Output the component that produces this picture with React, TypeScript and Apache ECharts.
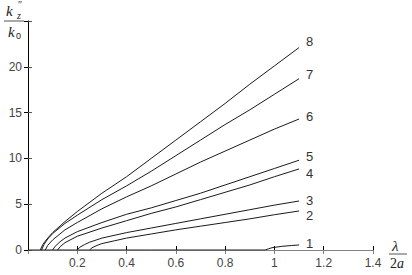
import React, { useEffect, useRef } from "react";
import * as echarts from "echarts";

// x = λ/2a, y = k''z / k0
const xTickValues = [0, 0.2, 0.4, 0.6, 0.8, 1, 1.2, 1.4];
const yTickValues = [0, 5, 10, 15, 20, 25];
const curveNames = ["1", "2", "3", "4", "5", "6", "7", "8"];

const curve1 = [[0, 0], [0.5, 0], [0.962, 0], [0.975, 0.12], [0.99, 0.25], [1.03, 0.4], [1.07, 0.49], [1.1, 0.55]];
const curve2 = [[0.25, 0], [0.26, 0.25], [0.28, 0.5], [0.3, 0.7], [0.35, 1.0], [0.4, 1.3], [0.5, 1.75], [0.6, 2.2], [0.7, 2.6], [0.8, 3.0], [0.9, 3.4], [1.0, 3.85], [1.1, 4.26]];
const curve3 = [[0.2, 0], [0.21, 0.3], [0.23, 0.6], [0.25, 0.85], [0.3, 1.3], [0.4, 1.9], [0.5, 2.4], [0.6, 2.9], [0.7, 3.4], [0.8, 3.9], [0.9, 4.4], [1.0, 4.9], [1.1, 5.35]];
const curve4 = [[0.12, 0], [0.13, 0.35], [0.15, 0.8], [0.2, 1.5], [0.3, 2.4], [0.4, 3.2], [0.5, 4.0], [0.6, 4.7], [0.7, 5.5], [0.8, 6.3], [0.9, 7.1], [1.0, 8.0], [1.1, 8.85]];
const curve5 = [[0.1, 0], [0.11, 0.4], [0.13, 0.9], [0.15, 1.3], [0.2, 2.0], [0.3, 3.0], [0.4, 3.9], [0.5, 4.6], [0.6, 5.4], [0.7, 6.2], [0.8, 7.1], [0.9, 8.0], [1.0, 8.9], [1.1, 9.8]];
const curve6 = [[0.07, 0], [0.08, 0.5], [0.1, 1.1], [0.15, 2.2], [0.2, 3.0], [0.3, 4.5], [0.4, 5.8], [0.5, 7.0], [0.6, 8.3], [0.7, 9.6], [0.8, 10.8], [0.9, 12.0], [1.0, 13.2], [1.1, 14.3]];
const curve7 = [[0.055, 0], [0.065, 0.6], [0.08, 1.2], [0.1, 1.8], [0.15, 2.9], [0.2, 3.8], [0.3, 5.5], [0.4, 7.0], [0.5, 8.6], [0.6, 10.3], [0.7, 12.0], [0.8, 13.7], [0.9, 15.3], [1.0, 17.0], [1.1, 18.7]];
const curve8 = [[0.05, 0], [0.06, 0.6], [0.08, 1.3], [0.1, 1.9], [0.15, 3.1], [0.2, 4.2], [0.3, 6.2], [0.4, 8.0], [0.5, 10.0], [0.6, 12.0], [0.7, 14.0], [0.8, 16.0], [0.9, 18.1], [1.0, 20.1], [1.1, 22.1]];

const curves = [curve1, curve2, curve3, curve4, curve5, curve6, curve7, curve8];
const labelDy = [-1, 5, 0, 5, -4, -3, -4, -6];

export default function App() {
  const ref = useRef<HTMLDivElement>(null);
  useEffect(() => {
    document.body.style.margin = "0";
    const chart = echarts.init(ref.current!, null, { renderer: "svg" });
    const font = "'Liberation Sans', Arial, sans-serif";
    const serif = "'Liberation Serif', 'Times New Roman', serif";
    const xMin = xTickValues[0];
    const xMax = xTickValues[xTickValues.length - 1];
    const yMin = yTickValues[0];
    const yMax = yTickValues[yTickValues.length - 1];
    const option: any = {
      animation: false,
      backgroundColor: "#ffffff",
      grid: { left: 28, top: 21, width: 345, height: 229, containLabel: false },
      xAxis: [
        {
          type: "value", position: "bottom", min: xMin, max: xMax, interval: 0.2,
          axisLine: { show: true, lineStyle: { color: "#000", width: 1 } },
          axisTick: { show: true, inside: true, length: 4, lineStyle: { color: "#000" } },
          axisLabel: {
            show: true, margin: 7, color: "#444", fontFamily: font, fontSize: 12,
            formatter: (v: number) => (Math.abs(v) < 1e-9 ? "" : String(Number(v.toFixed(1)))),
          },
          splitLine: { show: false },
        },
        {
          type: "value", position: "top", min: xMin, max: xMax, interval: 0.2,
          axisLine: { show: true, lineStyle: { color: "#808080", width: 1 } },
          axisTick: { show: true, inside: true, length: 4, lineStyle: { color: "#808080" } },
          axisLabel: { show: false },
          splitLine: { show: false },
        },
      ],
      yAxis: [
        {
          type: "value", position: "left", min: yMin, max: yMax, interval: 5,
          axisLine: { show: true, lineStyle: { color: "#808080", width: 1 } },
          axisTick: { show: true, inside: true, length: 4, lineStyle: { color: "#555" } },
          axisLabel: {
            show: true, margin: 6, color: "#444", fontFamily: font, fontSize: 12,
            formatter: (v: number) => (v >= yMax ? "" : String(v)),
          },
          splitLine: { show: false },
        },
        {
          type: "value", position: "right", min: yMin, max: yMax, interval: 5,
          axisLine: { show: true, lineStyle: { color: "#000", width: 1 } },
          axisTick: { show: true, inside: true, length: 4, lineStyle: { color: "#000" } },
          axisLabel: { show: false },
          splitLine: { show: false },
        },
      ],
      series: curves.map((data, i) => ({
        name: curveNames[i],
        type: "line",
        xAxisIndex: 0,
        yAxisIndex: 0,
        data,
        showSymbol: false,
        smooth: false,
        lineStyle: { color: "#1a1a1a", width: 1 },
        endLabel: {
          show: true,
          formatter: curveNames[i],
          distance: 7,
          offset: [0, labelDy[i]],
          color: "#333",
          fontFamily: font,
          fontSize: 13,
        },
        silent: true,
      })),
      graphic: [
        { type: "text", left: 6, top: 3, style: { text: "k", font: `italic 15px ${serif}`, fill: "#222" } },
        { type: "text", left: 18, top: -1, style: { text: "″", font: `10px ${serif}`, fill: "#222" } },
        { type: "text", left: 17, top: 10, style: { text: "z", font: `italic 10px ${serif}`, fill: "#222" } },
        { type: "line", shape: { x1: 4, y1: 21, x2: 24, y2: 21 }, style: { stroke: "#555", lineWidth: 1 } },
        { type: "text", left: 8, top: 24, style: { text: "k", font: `italic 15px ${serif}`, fill: "#222" } },
        { type: "text", left: 16, top: 31, style: { text: "0", font: `9px ${font}`, fill: "#222" } },
        { type: "text", left: 392, top: 238, style: { text: "λ", font: `italic 15px ${serif}`, fill: "#222" } },
        { type: "line", shape: { x1: 389, y1: 254, x2: 407, y2: 254 }, style: { stroke: "#555", lineWidth: 1 } },
        { type: "text", left: 390, top: 256, style: { text: "2", font: `14px ${serif}`, fill: "#222" } },
        { type: "text", left: 397, top: 256, style: { text: "a", font: `italic 14px ${serif}`, fill: "#222" } },
      ],
    };
    chart.setOption(option);
    return () => chart.dispose();
  }, []);
  return <div ref={ref} style={{ position: "fixed", left: 0, top: 0, width: 412, height: 275 }} />;
}
